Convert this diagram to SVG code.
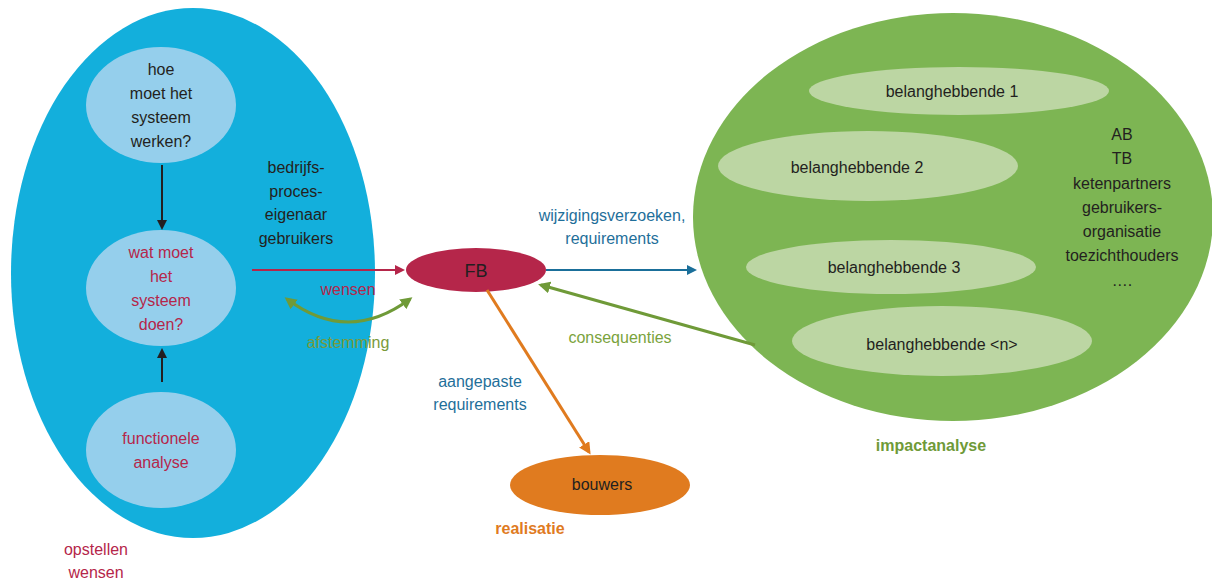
<svg xmlns="http://www.w3.org/2000/svg" width="1212" height="580" viewBox="0 0 1212 580">
<style>
text{font-family:"Liberation Sans",Arial,sans-serif;font-size:16px;text-anchor:middle;fill:#231f20}
.cr{fill:#b5264a}
.gr{fill:#7a9a3a}
.bl{fill:#1f6f9a}
.b{font-weight:bold}
.inner{fill:#95cfec}
.lg{fill:#bcd6a3}
</style>
<defs>
<marker id="ak" markerWidth="10" markerHeight="10" refX="8" refY="5" orient="auto" markerUnits="userSpaceOnUse"><path d="M0,0 L10,5 L0,10 Z" fill="#231f20"/></marker>
<marker id="ar" markerWidth="10" markerHeight="10" refX="8" refY="5" orient="auto" markerUnits="userSpaceOnUse"><path d="M0,0 L10,5 L0,10 Z" fill="#b5264a"/></marker>
<marker id="ab" markerWidth="10" markerHeight="10" refX="8" refY="5" orient="auto" markerUnits="userSpaceOnUse"><path d="M0,0 L10,5 L0,10 Z" fill="#1a6f9a"/></marker>
<marker id="ag" markerWidth="12" markerHeight="12" refX="9" refY="6" orient="auto-start-reverse" markerUnits="userSpaceOnUse"><path d="M0,0 L12,6 L0,12 Z" fill="#6f9a38"/></marker>
<marker id="ao" markerWidth="12" markerHeight="12" refX="9" refY="6" orient="auto" markerUnits="userSpaceOnUse"><path d="M0,0 L12,6 L0,12 Z" fill="#e07b1f"/></marker>
</defs>

<g id="opstellen-wensen">
<ellipse cx="193" cy="273" rx="182" ry="265" fill="#13afdc"/>
<text class="cr" x="96" y="555">opstellen</text>
<text class="cr" x="96" y="578">wensen</text>
</g>
<g id="hoe">
<ellipse class="inner" cx="161" cy="105" rx="75" ry="58"/>
<text x="161" y="75">hoe</text>
<text x="161" y="99">moet het</text>
<text x="161" y="123">systeem</text>
<text x="161" y="147">werken?</text>
</g>
<g id="wat">
<ellipse class="inner" cx="161" cy="288" rx="75" ry="58"/>
<text class="cr" x="161" y="258">wat moet</text>
<text class="cr" x="161" y="282">het</text>
<text class="cr" x="161" y="306">systeem</text>
<text class="cr" x="161" y="330">doen?</text>
</g>
<g id="functionele">
<ellipse class="inner" cx="161" cy="450" rx="75" ry="58"/>
<text class="cr" x="161" y="444">functionele</text>
<text class="cr" x="161" y="468">analyse</text>
</g>
<g id="bedrijfs">
<text x="296" y="173">bedrijfs-</text>
<text x="296" y="197">proces-</text>
<text x="296" y="220">eigenaar</text>
<text x="296" y="244">gebruikers</text>
</g>
<g id="FB">
<ellipse cx="476" cy="270" rx="70" ry="22" fill="#b5264a"/>
<text x="476" y="277" style="font-size:18px">FB</text>
</g>
<g id="bouwers">
<ellipse cx="600" cy="485" rx="90" ry="30" fill="#e07b1f"/>
<text x="602" y="490">bouwers</text>
<text x="530" y="534" class="b" style="fill:#e07b1f">realisatie</text>
</g>
<g id="impactanalyse">
<ellipse cx="953" cy="217" rx="260" ry="204" fill="#7db553"/>
<text x="931" y="451" class="b" style="fill:#6f9a38">impactanalyse</text>
<text x="1122" y="140">AB</text>
<text x="1122" y="164">TB</text>
<text x="1122" y="189">ketenpartners</text>
<text x="1122" y="213">gebruikers-</text>
<text x="1122" y="237">organisatie</text>
<text x="1122" y="261">toezichthouders</text>
<text x="1122" y="286">….</text>
</g>
<g id="b1"><ellipse class="lg" cx="959" cy="91" rx="150" ry="24"/><text x="952" y="97">belanghebbende 1</text></g>
<g id="b2"><ellipse class="lg" cx="868" cy="166" rx="150" ry="35"/><text x="857" y="173">belanghebbende 2</text></g>
<g id="b3"><ellipse class="lg" cx="891" cy="267" rx="145" ry="27"/><text x="894" y="273">belanghebbende 3</text></g>
<g id="bn"><ellipse class="lg" cx="942" cy="341" rx="150" ry="35"/><text x="942" y="350">belanghebbende &lt;n&gt;</text></g>

<g id="connectors" fill="none">
<line x1="162" y1="165" x2="162" y2="228" stroke="#231f20" stroke-width="2" marker-end="url(#ak)"/>
<line x1="162" y1="382" x2="162" y2="350" stroke="#231f20" stroke-width="2" marker-end="url(#ak)"/>
<line x1="252" y1="270" x2="403" y2="270" stroke="#b5264a" stroke-width="2" marker-end="url(#ar)"/>
<path d="M287,299 Q348,345 410,299" stroke="#6f9a38" stroke-width="3" marker-start="url(#ag)" marker-end="url(#ag)"/>
<line x1="546" y1="270" x2="695" y2="270" stroke="#1a6f9a" stroke-width="2" marker-end="url(#ab)"/>
<line x1="755" y1="345" x2="541" y2="285" stroke="#6f9a38" stroke-width="3" marker-end="url(#ag)"/>
<line x1="487" y1="290" x2="589" y2="452" stroke="#e07b1f" stroke-width="3" marker-end="url(#ao)"/>
</g>
<g id="labels">
<text class="cr" x="348" y="295">wensen</text>
<text class="gr" x="348" y="348">afstemming</text>
<text class="bl" x="612" y="221">wijzigingsverzoeken,</text>
<text class="bl" x="612" y="244">requirements</text>
<text class="gr" x="620" y="343" style="fill:#7aa33c">consequenties</text>
<text class="bl" x="480" y="387">aangepaste</text>
<text class="bl" x="480" y="410">requirements</text>
</g>
</svg>
